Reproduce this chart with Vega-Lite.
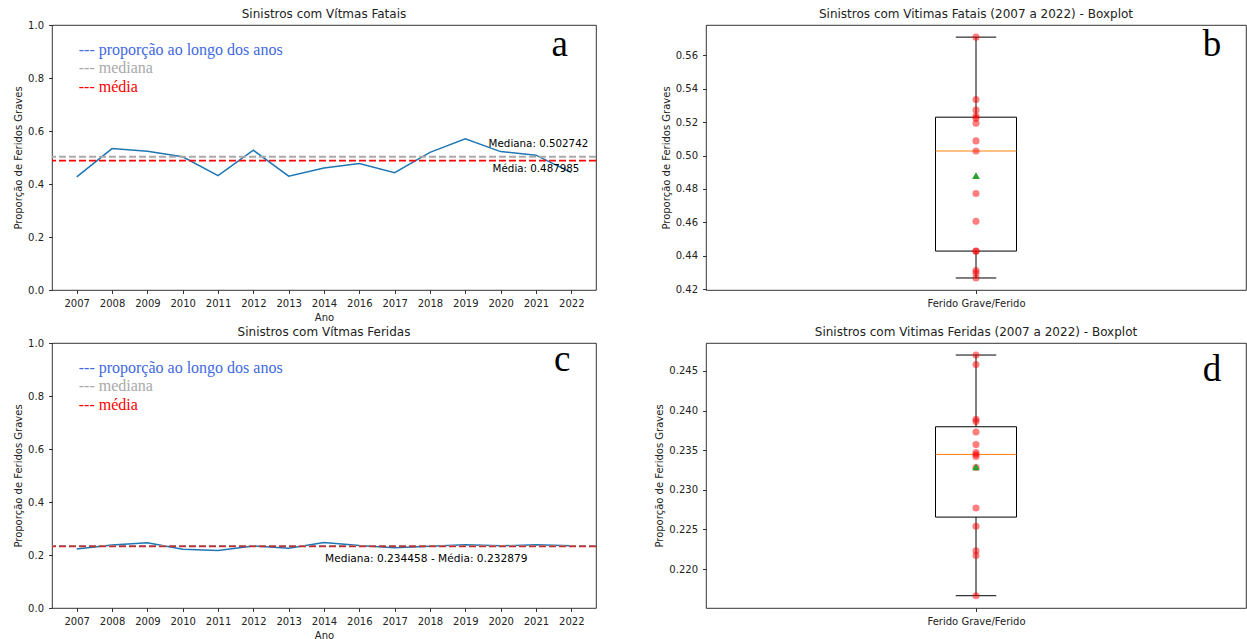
{
  "$schema": "https://vega.github.io/schema/vega-lite/v6.json",
  "background": "white",
  "padding": {"left": 13, "top": 7, "right": 0, "bottom": 0},
  "autosize": {"type": "pad"},
  "columns": 2,
  "spacing": {"row": 53, "column": 110},
  "bounds": "flush",
  "datasets": {
    "fatais": [
      {"ano": "2007", "prop": 0.4267},
      {"ano": "2008", "prop": 0.5336},
      {"ano": "2009", "prop": 0.5237},
      {"ano": "2010", "prop": 0.502742},
      {"ano": "2011", "prop": 0.4312},
      {"ano": "2012", "prop": 0.5273},
      {"ano": "2013", "prop": 0.4297},
      {"ano": "2014", "prop": 0.4606},
      {"ano": "2016", "prop": 0.4773},
      {"ano": "2017", "prop": 0.4427},
      {"ano": "2018", "prop": 0.5193},
      {"ano": "2019", "prop": 0.57093},
      {"ano": "2020", "prop": 0.5223},
      {"ano": "2021", "prop": 0.5088},
      {"ano": "2022", "prop": 0.4429}
    ],
    "feridas": [
      {"ano": "2007", "prop": 0.2223},
      {"ano": "2008", "prop": 0.2373},
      {"ano": "2009", "prop": 0.2458},
      {"ano": "2010", "prop": 0.2217},
      {"ano": "2011", "prop": 0.21663},
      {"ano": "2012", "prop": 0.2342},
      {"ano": "2013", "prop": 0.2254},
      {"ano": "2014", "prop": 0.2470},
      {"ano": "2016", "prop": 0.2357},
      {"ano": "2017", "prop": 0.2277},
      {"ano": "2018", "prop": 0.2328},
      {"ano": "2019", "prop": 0.2389},
      {"ano": "2020", "prop": 0.234458},
      {"ano": "2021", "prop": 0.2386},
      {"ano": "2022", "prop": 0.2347}
    ]
  },
  "concat": [
    {
      "title": {"text": "Sinistros com Vítmas Fatais", "offset": -1},
      "width": 544,
      "height": 265,
      "data": {"name": "fatais"},
      "layer": [
        {
          "mark": {"type": "line", "color": "#1f77b4", "strokeWidth": 1.5},
          "encoding": {
            "x": {"field": "ano", "type": "ordinal", "scale": {"type": "point", "padding": 0.7}, "axis": {"labelAngle": 0, "title": "Ano"}},
            "y": {"field": "prop", "type": "quantitative", "scale": {"domain": [0, 1], "nice": false}, "axis": {"values": [0, 0.2, 0.4, 0.6, 0.8, 1.0], "tickCount": 20, "format": ".1f", "labelOverlap": false, "title": "Proporção de Feridos Graves"}}
          }
        },
        {
          "transform": [{"aggregate": [{"op": "median", "field": "prop", "as": "mediana"}]}],
          "mark": {"type": "rule", "color": "darkgray", "strokeDash": [7, 3], "strokeWidth": 1.8},
          "encoding": {"y": {"field": "mediana", "type": "quantitative"}}
        },
        {
          "transform": [{"aggregate": [{"op": "mean", "field": "prop", "as": "media"}]}],
          "mark": {"type": "rule", "color": "red", "strokeDash": [7, 3], "strokeWidth": 1.8},
          "encoding": {"y": {"field": "media", "type": "quantitative"}}
        },
        {
          "transform": [{"aggregate": [{"op": "median", "field": "prop", "as": "mediana"}]}],
          "mark": {"type": "text", "align": "left", "baseline": "middle", "dx": -12, "dy": -12.5, "fontSize": 10.3, "color": "black"},
          "encoding": {
            "x": {"datum": "2020", "type": "ordinal"},
            "y": {"field": "mediana", "type": "quantitative"},
            "text": {"value": "Mediana: 0.502742"}
          }
        },
        {
          "transform": [{"aggregate": [{"op": "mean", "field": "prop", "as": "media"}]}],
          "mark": {"type": "text", "align": "left", "baseline": "middle", "dx": -8, "dy": 8.5, "fontSize": 10.3, "color": "black"},
          "encoding": {
            "x": {"datum": "2020", "type": "ordinal"},
            "y": {"field": "media", "type": "quantitative"},
            "text": {"value": "Média: 0.487985"}
          }
        },
        {
          "transform": [{"aggregate": [{"op": "count", "as": "n"}]}],
          "mark": {"type": "text", "align": "left", "baseline": "alphabetic", "dx": 2, "font": "Liberation Serif", "fontSize": 16, "color": "royalblue"},
          "encoding": {"x": {"datum": "2007", "type": "ordinal"}, "y": {"datum": 0.885, "type": "quantitative"}, "text": {"value": "--- proporção ao longo dos anos"}}
        },
        {
          "transform": [{"aggregate": [{"op": "count", "as": "n"}]}],
          "mark": {"type": "text", "align": "left", "baseline": "alphabetic", "dx": 2, "font": "Liberation Serif", "fontSize": 16, "color": "darkgray"},
          "encoding": {"x": {"datum": "2007", "type": "ordinal"}, "y": {"datum": 0.817, "type": "quantitative"}, "text": {"value": "--- mediana"}}
        },
        {
          "transform": [{"aggregate": [{"op": "count", "as": "n"}]}],
          "mark": {"type": "text", "align": "left", "baseline": "alphabetic", "dx": 2, "font": "Liberation Serif", "fontSize": 16, "color": "red"},
          "encoding": {"x": {"datum": "2007", "type": "ordinal"}, "y": {"datum": 0.748, "type": "quantitative"}, "text": {"value": "--- média"}}
        },
        {
          "transform": [{"aggregate": [{"op": "count", "as": "n"}]}],
          "mark": {"type": "text", "align": "center", "baseline": "alphabetic", "dx": -11.5, "font": "Liberation Serif", "fontSize": 37, "color": "black"},
          "encoding": {"x": {"datum": "2022", "type": "ordinal"}, "y": {"datum": 0.883, "type": "quantitative"}, "text": {"value": "a"}}
        }
      ]
    },
    {
      "title": {"text": "Sinistros com Vitimas Fatais (2007 a 2022) - Boxplot", "offset": 4},
      "width": 540,
      "height": 265,
      "data": {"name": "fatais"},
      "layer": [
        {
          "transform": [{"aggregate": [{"op": "q1", "field": "prop", "as": "q1"}, {"op": "q3", "field": "prop", "as": "q3"}, {"op": "median", "field": "prop", "as": "med"}, {"op": "min", "field": "prop", "as": "mn"}, {"op": "max", "field": "prop", "as": "mx"}, {"op": "mean", "field": "prop", "as": "avg"}]}],
          "layer": [
            {
              "mark": {"type": "rule", "color": "black", "strokeWidth": 1},
              "encoding": {
                "x": {"datum": 1, "type": "quantitative", "scale": {"domain": [0.5, 1.5], "nice": false, "zero": false}, "axis": {"values": [1], "labelExpr": "'Ferido Grave/Ferido'", "title": null}},
                "y": {"field": "mn", "type": "quantitative", "scale": {"domain": [0.4195, 0.5782], "nice": false, "zero": false}, "axis": {"values": [0.42, 0.44, 0.46, 0.48, 0.5, 0.52, 0.54, 0.56], "tickCount": 20, "format": ".2f", "labelOverlap": false, "title": "Proporção de Feridos Graves"}},
                "y2": {"field": "q1"}
              }
            },
            {
              "mark": {"type": "rule", "color": "black", "strokeWidth": 1},
              "encoding": {"x": {"datum": 1, "type": "quantitative"}, "y": {"field": "q3", "type": "quantitative"}, "y2": {"field": "mx"}}
            },
            {
              "mark": {"type": "rule", "color": "black", "strokeWidth": 1},
              "encoding": {"x": {"datum": 0.9625, "type": "quantitative"}, "x2": {"datum": 1.0375}, "y": {"field": "mn", "type": "quantitative"}}
            },
            {
              "mark": {"type": "rule", "color": "black", "strokeWidth": 1},
              "encoding": {"x": {"datum": 0.9625, "type": "quantitative"}, "x2": {"datum": 1.0375}, "y": {"field": "mx", "type": "quantitative"}}
            },
            {
              "mark": {"type": "rect", "fillOpacity": 0, "stroke": "black", "strokeWidth": 1},
              "encoding": {"x": {"datum": 0.925, "type": "quantitative"}, "x2": {"datum": 1.075}, "y": {"field": "q1", "type": "quantitative"}, "y2": {"field": "q3"}}
            },
            {
              "mark": {"type": "rule", "color": "#ff7f0e", "strokeWidth": 1},
              "encoding": {"x": {"datum": 0.925, "type": "quantitative"}, "x2": {"datum": 1.075}, "y": {"field": "med", "type": "quantitative"}}
            }
          ]
        },
        {
          "mark": {"type": "circle", "color": "red", "opacity": 0.5, "size": 50},
          "encoding": {"x": {"datum": 1, "type": "quantitative"}, "y": {"field": "prop", "type": "quantitative"}}
        },
        {
          "transform": [{"aggregate": [{"op": "mean", "field": "prop", "as": "avg"}]}],
          "mark": {"type": "point", "shape": "triangle-up", "filled": true, "color": "#2ca02c", "opacity": 1, "size": 60},
          "encoding": {"x": {"datum": 1, "type": "quantitative"}, "y": {"field": "avg", "type": "quantitative"}}
        },
        {
          "transform": [{"aggregate": [{"op": "count", "as": "n"}]}],
          "mark": {"type": "text", "align": "center", "baseline": "alphabetic", "font": "Liberation Serif", "fontSize": 37, "color": "black"},
          "encoding": {"x": {"datum": 1.437, "type": "quantitative"}, "y": {"datum": 0.5596, "type": "quantitative"}, "text": {"value": "b"}}
        }
      ]
    },
    {
      "title": {"text": "Sinistros com Vítmas Feridas", "offset": -1},
      "width": 544,
      "height": 265,
      "data": {"name": "feridas"},
      "layer": [
        {
          "mark": {"type": "line", "color": "#1f77b4", "strokeWidth": 1.5},
          "encoding": {
            "x": {"field": "ano", "type": "ordinal", "scale": {"type": "point", "padding": 0.7}, "axis": {"labelAngle": 0, "title": "Ano"}},
            "y": {"field": "prop", "type": "quantitative", "scale": {"domain": [0, 1], "nice": false}, "axis": {"values": [0, 0.2, 0.4, 0.6, 0.8, 1.0], "tickCount": 20, "format": ".1f", "labelOverlap": false, "title": "Proporção de Feridos Graves"}}
          }
        },
        {
          "transform": [{"aggregate": [{"op": "median", "field": "prop", "as": "mediana"}]}],
          "mark": {"type": "rule", "color": "darkgray", "strokeDash": [7, 3], "strokeWidth": 1.8},
          "encoding": {"y": {"field": "mediana", "type": "quantitative"}}
        },
        {
          "transform": [{"aggregate": [{"op": "mean", "field": "prop", "as": "media"}]}],
          "mark": {"type": "rule", "color": "#c03030", "strokeDash": [7, 3], "strokeWidth": 1.8},
          "encoding": {"y": {"field": "media", "type": "quantitative"}}
        },
        {
          "transform": [{"aggregate": [{"op": "median", "field": "prop", "as": "mediana"}]}],
          "mark": {"type": "text", "align": "left", "baseline": "middle", "dx": 1, "dy": 13, "fontSize": 10.6, "color": "black"},
          "encoding": {
            "x": {"datum": "2014", "type": "ordinal"},
            "y": {"field": "mediana", "type": "quantitative"},
            "text": {"value": "Mediana: 0.234458 - Média: 0.232879"}
          }
        },
        {
          "transform": [{"aggregate": [{"op": "count", "as": "n"}]}],
          "mark": {"type": "text", "align": "left", "baseline": "alphabetic", "dx": 2, "font": "Liberation Serif", "fontSize": 16, "color": "royalblue"},
          "encoding": {"x": {"datum": "2007", "type": "ordinal"}, "y": {"datum": 0.885, "type": "quantitative"}, "text": {"value": "--- proporção ao longo dos anos"}}
        },
        {
          "transform": [{"aggregate": [{"op": "count", "as": "n"}]}],
          "mark": {"type": "text", "align": "left", "baseline": "alphabetic", "dx": 2, "font": "Liberation Serif", "fontSize": 16, "color": "darkgray"},
          "encoding": {"x": {"datum": "2007", "type": "ordinal"}, "y": {"datum": 0.817, "type": "quantitative"}, "text": {"value": "--- mediana"}}
        },
        {
          "transform": [{"aggregate": [{"op": "count", "as": "n"}]}],
          "mark": {"type": "text", "align": "left", "baseline": "alphabetic", "dx": 2, "font": "Liberation Serif", "fontSize": 16, "color": "red"},
          "encoding": {"x": {"datum": "2007", "type": "ordinal"}, "y": {"datum": 0.748, "type": "quantitative"}, "text": {"value": "--- média"}}
        },
        {
          "transform": [{"aggregate": [{"op": "count", "as": "n"}]}],
          "mark": {"type": "text", "align": "center", "baseline": "alphabetic", "dx": -9, "font": "Liberation Serif", "fontSize": 37, "color": "black"},
          "encoding": {"x": {"datum": "2022", "type": "ordinal"}, "y": {"datum": 0.894, "type": "quantitative"}, "text": {"value": "c"}}
        }
      ]
    },
    {
      "title": {"text": "Sinistros com Vitimas Feridas (2007 a 2022) - Boxplot", "offset": 4},
      "width": 540,
      "height": 265,
      "data": {"name": "feridas"},
      "layer": [
        {
          "transform": [{"aggregate": [{"op": "q1", "field": "prop", "as": "q1"}, {"op": "q3", "field": "prop", "as": "q3"}, {"op": "median", "field": "prop", "as": "med"}, {"op": "min", "field": "prop", "as": "mn"}, {"op": "max", "field": "prop", "as": "mx"}, {"op": "mean", "field": "prop", "as": "avg"}]}],
          "layer": [
            {
              "mark": {"type": "rule", "color": "black", "strokeWidth": 1},
              "encoding": {
                "x": {"datum": 1, "type": "quantitative", "scale": {"domain": [0.5, 1.5], "nice": false, "zero": false}, "axis": {"values": [1], "labelExpr": "'Ferido Grave/Ferido'", "title": null}},
                "y": {"field": "mn", "type": "quantitative", "scale": {"domain": [0.21508, 0.24852], "nice": false, "zero": false}, "axis": {"values": [0.22, 0.225, 0.23, 0.235, 0.24, 0.245], "tickCount": 20, "format": ".3f", "labelOverlap": false, "title": "Proporção de Feridos Graves"}},
                "y2": {"field": "q1"}
              }
            },
            {
              "mark": {"type": "rule", "color": "black", "strokeWidth": 1},
              "encoding": {"x": {"datum": 1, "type": "quantitative"}, "y": {"field": "q3", "type": "quantitative"}, "y2": {"field": "mx"}}
            },
            {
              "mark": {"type": "rule", "color": "black", "strokeWidth": 1},
              "encoding": {"x": {"datum": 0.9625, "type": "quantitative"}, "x2": {"datum": 1.0375}, "y": {"field": "mn", "type": "quantitative"}}
            },
            {
              "mark": {"type": "rule", "color": "black", "strokeWidth": 1},
              "encoding": {"x": {"datum": 0.9625, "type": "quantitative"}, "x2": {"datum": 1.0375}, "y": {"field": "mx", "type": "quantitative"}}
            },
            {
              "mark": {"type": "rect", "fillOpacity": 0, "stroke": "black", "strokeWidth": 1},
              "encoding": {"x": {"datum": 0.925, "type": "quantitative"}, "x2": {"datum": 1.075}, "y": {"field": "q1", "type": "quantitative"}, "y2": {"field": "q3"}}
            },
            {
              "mark": {"type": "rule", "color": "#ff7f0e", "strokeWidth": 1},
              "encoding": {"x": {"datum": 0.925, "type": "quantitative"}, "x2": {"datum": 1.075}, "y": {"field": "med", "type": "quantitative"}}
            }
          ]
        },
        {
          "mark": {"type": "circle", "color": "red", "opacity": 0.5, "size": 50},
          "encoding": {"x": {"datum": 1, "type": "quantitative"}, "y": {"field": "prop", "type": "quantitative"}}
        },
        {
          "transform": [{"aggregate": [{"op": "mean", "field": "prop", "as": "avg"}]}],
          "mark": {"type": "point", "shape": "triangle-up", "filled": true, "color": "#2ca02c", "opacity": 1, "size": 60},
          "encoding": {"x": {"datum": 1, "type": "quantitative"}, "y": {"field": "avg", "type": "quantitative"}}
        },
        {
          "transform": [{"aggregate": [{"op": "count", "as": "n"}]}],
          "mark": {"type": "text", "align": "center", "baseline": "alphabetic", "font": "Liberation Serif", "fontSize": 37, "color": "black"},
          "encoding": {"x": {"datum": 1.437, "type": "quantitative"}, "y": {"datum": 0.24373, "type": "quantitative"}, "text": {"value": "d"}}
        }
      ]
    }
  ],
  "config": {
    "font": "DejaVu Sans",
    "view": {"stroke": "black", "strokeWidth": 0.8},
    "axis": {
      "domain": false,
      "grid": false,
      "ticks": true,
      "tickColor": "black",
      "tickSize": 3.5,
      "tickWidth": 0.8,
      "labelColor": "#222222",
      "labelFont": "DejaVu Sans",
      "labelFontSize": 10,
      "labelPadding": 5,
      "labelOverlap": false,
      "titleFont": "DejaVu Sans",
      "titleFontSize": 10,
      "titleFontWeight": "normal",
      "titleColor": "#222222",
      "titlePadding": 4
    },
    "title": {"font": "DejaVu Sans", "fontSize": 12, "fontWeight": "normal", "color": "#222222"}
  }
}
